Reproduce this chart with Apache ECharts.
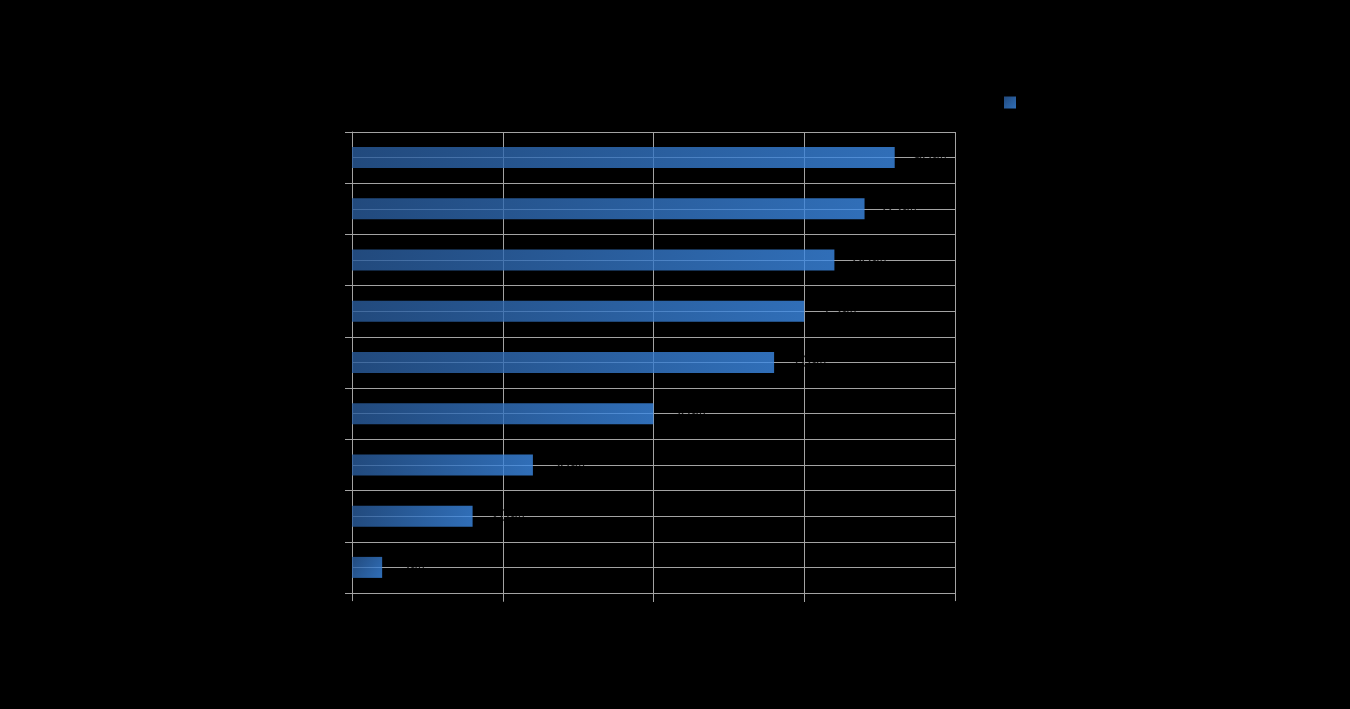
<!DOCTYPE html>
<html>
<head>
<meta charset="utf-8">
<style>
html,body{margin:0;padding:0;background:#000;}
#chart{width:1350px;height:709px;}
</style>
<script src="https://cdn.jsdelivr.net/npm/echarts@6/dist/echarts.min.js"></script>
</head>
<body>
<div id="chart"></div>
<script>
var categories = ['Item 1','Item 2','Item 3','Item 4','Item 5','Item 6','Item 7','Item 8','Item 9'];
var values = [90, 85, 80, 75, 70, 50, 30, 20, 5];
var seriesName = 'Series 1';
var xTicks = [0, 25, 50, 75, 100];

var chart = echarts.init(document.getElementById('chart'));
var gridColor = '#a3a3a3';
chart.setOption({
  backgroundColor: '#000000',
  textStyle: {fontFamily: 'Liberation Sans, Arial, sans-serif'},
  title: {text: 'Chart', left: 'center', top: 20, textStyle: {color: '#000', fontSize: 18}},
  legend: {
    data: [seriesName], left: 999, top: 91, itemWidth: 12, itemHeight: 12, icon: 'rect',
    itemGap: 5, textStyle: {color: '#000', fontSize: 13}
  },
  grid: {left: 352, right: 395, top: 132, bottom: 116, containLabel: false},
  xAxis: {
    type: 'value', min: xTicks[0], max: xTicks[xTicks.length - 1], interval: 25,
    axisLine: {show: true, lineStyle: {color: gridColor, width: 1}},
    axisTick: {show: true, length: 9, lineStyle: {color: gridColor}},
    axisLabel: {color: '#000', fontSize: 12},
    splitLine: {show: true, lineStyle: {color: gridColor, width: 1}}
  },
  yAxis: [{
    type: 'category', data: categories, inverse: true,
    axisLine: {show: true, lineStyle: {color: gridColor, width: 1}},
    axisTick: {show: true, length: 7, lineStyle: {color: gridColor}},
    axisLabel: {color: '#000', fontSize: 12},
    splitLine: {show: false}
  }, {
    type: 'value', min: 0, max: categories.length * 2, interval: 1, position: 'left',
    axisLine: {show: false}, axisTick: {show: false}, axisLabel: {show: false},
    splitLine: {show: true, lineStyle: {color: gridColor, width: 1}}
  }],
  series: [{
    name: seriesName, type: 'bar', yAxisIndex: 0, data: values, barWidth: 21,
    itemStyle: {
      opacity: 0.8,
      color: new echarts.graphic.LinearGradient(0, 0, 1, 1, [
        {offset: 0, color: '#2a5c9c'},
        {offset: 1, color: '#3c8ae6'}
      ])
    },
    label: {show: true, position: 'right', distance: 18, color: '#000', fontSize: 17, formatter: '{c}%'}
  }]
});
</script>
</body>
</html>
